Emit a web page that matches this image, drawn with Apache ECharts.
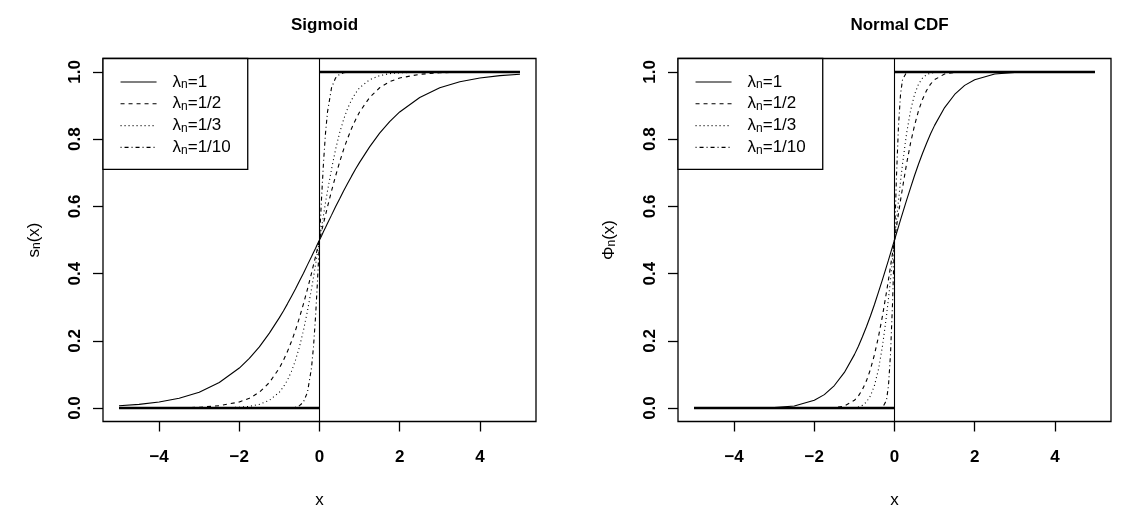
<!DOCTYPE html>
<html><head><meta charset="utf-8">
<script src="https://cdn.jsdelivr.net/npm/echarts@6/dist/echarts.min.js"></script>
<style>html,body{margin:0;padding:0;background:#fff}#c{width:1121px;height:521px}</style>
</head><body><div id="c"></div>
<script>
// ---- data ----
const xs = [-5,-4.5,-4,-3.5,-3,-2.5,-2,-1.75,-1.5,-1.25,-1,-0.9,-0.8,-0.7,-0.6,-0.5,-0.4,-0.3,-0.2,-0.15,-0.1,-0.05,0,0.05,0.1,0.15,0.2,0.3,0.4,0.5,0.6,0.7,0.8,0.9,1,1.25,1.5,1.75,2,2.5,3,3.5,4,4.5,5];
const lambdaLabels = ['1','1/2','1/3','1/10'];
const sigL1 = [0.007,0.011,0.018,0.029,0.047,0.076,0.119,0.148,0.182,0.223,0.269,0.289,0.310,0.332,0.354,0.378,0.401,0.426,0.450,0.463,0.475,0.488,0.5,0.512,0.525,0.537,0.550,0.574,0.599,0.622,0.646,0.668,0.690,0.711,0.731,0.777,0.818,0.852,0.881,0.924,0.953,0.971,0.982,0.989,0.993];
const sigL2 = [0,0.0001,0.0003,0.0009,0.0025,0.007,0.018,0.029,0.047,0.076,0.119,0.142,0.168,0.198,0.231,0.269,0.310,0.354,0.401,0.426,0.450,0.475,0.5,0.525,0.550,0.574,0.599,0.646,0.690,0.731,0.769,0.802,0.832,0.858,0.881,0.924,0.953,0.971,0.982,0.993,0.9975,0.9991,0.9997,0.9999,1];
const sigL3 = [0,0,0,0,0.0001,0.0006,0.0025,0.005,0.011,0.023,0.047,0.063,0.083,0.109,0.142,0.182,0.231,0.289,0.354,0.389,0.426,0.463,0.5,0.537,0.574,0.611,0.646,0.711,0.769,0.818,0.858,0.891,0.917,0.937,0.953,0.977,0.989,0.995,0.9975,0.9994,0.9999,1,1,1,1];
const sigL10 = [0,0,0,0,0,0,0,0,0,0,0,0.0001,0.0003,0.0009,0.0025,0.007,0.018,0.047,0.119,0.182,0.269,0.378,0.5,0.622,0.731,0.818,0.881,0.953,0.982,0.993,0.9975,0.9991,0.9997,0.9999,1,1,1,1,1,1,1,1,1,1,1];
const normL1 = [0,0,0,0.0002,0.0013,0.006,0.023,0.040,0.067,0.106,0.159,0.184,0.212,0.242,0.274,0.308,0.345,0.382,0.421,0.440,0.460,0.480,0.5,0.520,0.540,0.560,0.579,0.618,0.655,0.692,0.726,0.758,0.788,0.816,0.841,0.894,0.933,0.960,0.977,0.994,0.9987,0.9998,1,1,1];
const normL2 = [0,0,0,0,0,0,0,0.0002,0.0013,0.006,0.023,0.036,0.055,0.081,0.115,0.159,0.212,0.274,0.345,0.382,0.421,0.460,0.5,0.540,0.579,0.618,0.655,0.726,0.788,0.841,0.885,0.919,0.945,0.964,0.977,0.994,0.9987,0.9998,1,1,1,1,1,1,1];
const normL3 = [0,0,0,0,0,0,0,0,0,0.0001,0.0013,0.0035,0.008,0.018,0.036,0.067,0.115,0.184,0.274,0.326,0.382,0.440,0.5,0.560,0.618,0.674,0.726,0.816,0.885,0.933,0.964,0.982,0.992,0.9965,0.9987,0.9999,1,1,1,1,1,1,1,1,1];
const normL10 = [0,0,0,0,0,0,0,0,0,0,0,0,0,0,0,0,0,0.0013,0.023,0.067,0.159,0.308,0.5,0.692,0.841,0.933,0.977,0.9987,1,1,1,1,1,1,1,1,1,1,1,1,1,1,1,1,1];
const stepLow = [[-5,0],[0,0]];
const stepHigh = [[0,1],[5,1]];
const xTicks = [-4,-2,0,2,4];
const yTicks = [0,0.2,0.4,0.6,0.8,1];
const panelTitles = ['Sigmoid','Normal CDF'];
const yNames = ['s{s|n}(x)','\u03A6{s|n}(x)'];

// ---- styles ----
const FONT = 'Liberation Sans, Arial, Helvetica, sans-serif';
const FS = 17;
const dashTypes = ['solid',[4,4],[1,3],[1,3,4,3]];
const panels = [[sigL1,sigL2,sigL3,sigL10],[normL1,normL2,normL3,normL10]];
const gridLeft = [103, 678];
const rich = {
  a: {fontSize: FS, fontFamily: FONT, color: '#000', lineHeight: 18},
  s: {fontSize: 12, fontFamily: FONT, color: '#000', lineHeight: 12, padding: [7,0,0,0], verticalAlign: 'bottom'}
};
const names = lambdaLabels.map(l => 'λn=' + l);

const fmtX = v => v < 0 ? '\u2212' + (-v) : String(v);

const grids = [], xAxes = [], yAxes = [], series = [], legends = [], titles = [];
for (let g = 0; g < 2; g++) {
  grids.push({left: gridLeft[g], top: 58.5, width: 433, height: 363, show: true, borderColor: '#000', borderWidth: 1.3, backgroundColor: 'transparent'});
  xAxes.push({
    type: 'value', gridIndex: g, min: -5.4, max: 5.4,
    name: 'x', nameLocation: 'middle', nameGap: 70,
    nameTextStyle: {fontSize: FS, fontFamily: FONT, color: '#000'},
    axisLine: {show: false, onZero: false},
    axisTick: {show: true, length: 10, customValues: xTicks, lineStyle: {color: '#000', width: 1.3}},
    axisLabel: {show: true, customValues: xTicks, margin: 27, formatter: fmtX, fontSize: FS, fontWeight: 'bold', fontFamily: FONT, color: '#000'},
    splitLine: {show: false}
  });
  yAxes.push({
    type: 'value', gridIndex: g, min: -0.04, max: 1.04,
    name: yNames[g], nameLocation: 'middle', nameGap: 60,
    nameTextStyle: {fontSize: FS, fontFamily: FONT, color: '#000', rich: rich},
    axisLine: {show: false, onZero: false},
    axisTick: {show: true, length: 10, customValues: yTicks, lineStyle: {color: '#000', width: 1.3}},
    axisLabel: {show: true, customValues: yTicks, rotate: 90, margin: 19, formatter: v => v.toFixed(1), fontSize: FS, fontWeight: 'bold', fontFamily: FONT, color: '#000'},
    splitLine: {show: false}
  });
  panels[g].forEach((vals, i) => {
    series.push({
      type: 'line', name: names[i], xAxisIndex: g, yAxisIndex: g,
      data: xs.map((x, j) => [x, vals[j]]),
      symbol: 'none', silent: true, z: 3,
      itemStyle: {color: '#000'},
      lineStyle: {color: '#000', width: 1.1, type: dashTypes[i]}
    });
  });
  series.push({
    type: 'line', name: 'stepLow', xAxisIndex: g, yAxisIndex: g, data: stepLow,
    symbol: 'none', silent: true, z: 4, lineStyle: {color: '#000', width: 2.6},
    markLine: {silent: true, symbol: ['none','none'], label: {show: false},
      lineStyle: {color: '#000', width: 1.1, type: 'solid'}, data: [{xAxis: 0}]}
  });
  series.push({
    type: 'line', name: 'stepHigh', xAxisIndex: g, yAxisIndex: g, data: stepHigh,
    symbol: 'none', silent: true, z: 4, lineStyle: {color: '#000', width: 2.6}
  });
  legends.push({
    data: names, orient: 'vertical', left: gridLeft[g], top: 58.5,
    backgroundColor: '#fff', borderColor: '#000', borderWidth: 1.3, borderRadius: 0,
    padding: [13.5, 17, 13, 17], itemGap: 2.8, itemWidth: 36, itemHeight: 14,
    selectedMode: false,
    itemStyle: {opacity: 0, color: 'transparent', borderWidth: 0},
    lineStyle: {width: 1.1, color: '#000'},
    formatter: n => '{a|λ}{s|n}{a|=' + n.slice(3) + '}',
    textStyle: {fontSize: FS, fontFamily: FONT, color: '#000', padding: [0,0,0,11], rich: rich}
  });
  titles.push({
    text: panelTitles[g], left: gridLeft[g] + 216.5, top: 12, textAlign: 'center',
    textStyle: {fontSize: FS, fontWeight: 'bold', fontFamily: FONT, color: '#000'}
  });
}

const chart = echarts.init(document.getElementById('c'), null, {renderer: 'canvas'});
chart.setOption({
  animation: false,
  backgroundColor: '#fff',
  title: titles,
  grid: grids,
  xAxis: xAxes,
  yAxis: yAxes,
  legend: legends,
  series: series
});
</script>
</body></html>
